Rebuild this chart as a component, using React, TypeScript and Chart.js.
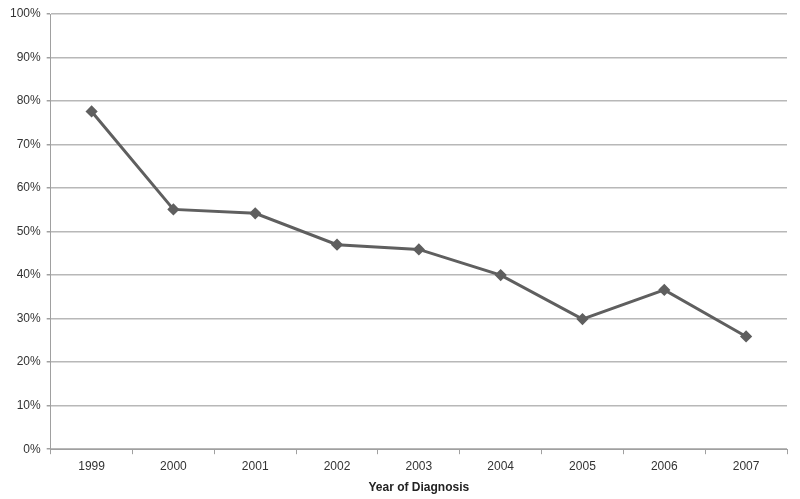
import React, { useEffect, useRef } from "react";
import { Chart, registerables } from "chart.js";

Chart.register(...registerables);

const years = ["1999", "2000", "2001", "2002", "2003", "2004", "2005", "2006", "2007"];
const percentages = [77.6, 55.1, 54.2, 47.0, 45.9, 40.0, 29.9, 36.6, 25.9];
const yTicks = [0, 10, 20, 30, 40, 50, 60, 70, 80, 90, 100];
const xTitle = "Year of Diagnosis";

export default function App() {
  const ref = useRef<HTMLCanvasElement | null>(null);
  useEffect(() => {
    if (!ref.current) return;
    const chart = new Chart(ref.current, {
      type: "line",
      data: {
        labels: years,
        datasets: [
          {
            data: percentages,
            borderColor: "#5f5f5f",
            backgroundColor: "#5f5f5f",
            borderWidth: 3,
            pointStyle: "rectRot",
            pointRadius: 4,
            pointBackgroundColor: "#5f5f5f",
            pointBorderColor: "#5f5f5f",
            tension: 0,
          },
        ],
      },
      options: {
        animation: false,
        responsive: false,
        layout: { padding: { left: 4, right: 13, top: 14, bottom: 4 } },
        plugins: { legend: { display: false }, tooltip: { enabled: false } },
        scales: {
          x: {
            offset: true,
            grid: {
              offset: true,
              drawOnChartArea: false,
              drawTicks: true,
              tickLength: 5,
              color: "#a0a0a0",
            },
            border: { color: "#a0a0a0", width: 1 },
            ticks: {
              color: "#333",
              font: { family: "Liberation Sans", size: 12 },
              padding: 5,
            },
            title: {
              display: true,
              text: xTitle,
              color: "#222",
              font: { family: "Liberation Sans", size: 12, weight: "bold" },
              padding: { top: 2, bottom: 0 },
            },
          },
          y: {
            min: 0,
            max: 100,
            afterBuildTicks: (axis: any) => {
              axis.ticks = yTicks.map((v) => ({ value: v }));
            },
            grid: {
              color: "#b8b8b8",
              lineWidth: 1.5,
              tickLength: 4,
              tickColor: "#a0a0a0",
            },
            border: { color: "#a0a0a0", width: 1 },
            ticks: {
              color: "#333",
              font: { family: "Liberation Sans", size: 12 },
              padding: 6,
              callback: (v: any) => v + "%",
            },
          },
        },
      },
    });
    return () => chart.destroy();
  }, []);
  return (
    <div style={{ position: "absolute", left: 0, top: 0, width: 800, height: 499, background: "#fff" }}>
      <canvas ref={ref} width={800} height={499} />
    </div>
  );
}
